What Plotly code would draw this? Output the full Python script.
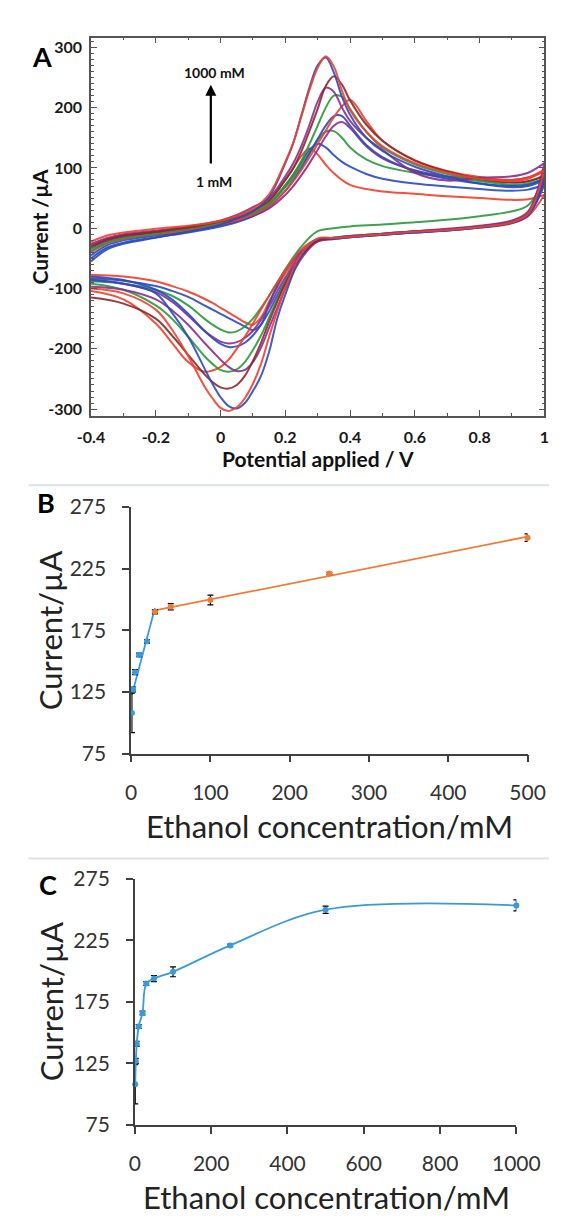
import numpy as np
import plotly.graph_objects as go

# ==========================================
# DATA
# ==========================================
# Panel A: cyclic voltammograms, forward (anodic) and reverse (cathodic) sweeps
cv_e_fwd = [-0.4, -0.35, -0.3, -0.2, -0.1, 0.0, 0.05, 0.1, 0.15, 0.2, 0.225, 0.25, 0.275,
            0.3, 0.325, 0.35, 0.375, 0.4, 0.45, 0.5, 0.6, 0.7, 0.8, 0.9, 0.95, 1.0]
cv_e_rev = [1.0, 0.95, 0.9, 0.8, 0.7, 0.6, 0.5, 0.4, 0.35, 0.3, 0.25, 0.2, 0.175, 0.15, 0.125,
            0.1, 0.075, 0.05, 0.025, 0.0, -0.025, -0.05, -0.1, -0.15, -0.2, -0.3, -0.4]

fwd_c0 = [-28, -18, -13, -6, 0, 9, 16, 27, 45, 80, 100, 120, 132, 122, 105, 91, 80, 72, 65, 61, 57, 53, 50, 47, 48, 55]
rev_c0 = [55, 20, 8, 1, -4, -7, -11, -15, -18, -22, -40, -75, -98, -122, -148, -160, -156, -148, -140, -132, -124, -117, -105, -96, -88, -80, -77]
fwd_c1 = [-45, -28, -20, -12, -5, 5, 12, 22, 40, 70, 88, 110, 130, 140, 134, 121, 110, 102, 90, 82, 74, 69, 65, 62, 64, 72]
rev_c1 = [72, 22, 10, 2, -3, -6, -10, -14, -17, -20, -38, -70, -95, -125, -160, -169, -163, -156, -149, -142, -135, -128, -114, -104, -96, -87, -83]
fwd_c2 = [-35, -22, -16, -9, -2, 7, 14, 24, 40, 68, 85, 105, 126, 146, 160, 161, 150, 134, 114, 103, 92, 84, 78, 72, 74, 82]
rev_c2 = [82, 38, 28, 20, 14, 10, 6, 3, 0, -5, -30, -68, -90, -112, -132, -150, -163, -171, -173, -168, -160, -150, -128, -112, -102, -92, -88]
fwd_c3 = [-32, -20, -14, -8, -2, 6, 12, 20, 33, 55, 70, 88, 108, 130, 152, 170, 176, 166, 136, 116, 96, 86, 82, 80, 84, 95]
rev_c3 = [95, 24, 11, 3, -2, -5, -9, -13, -16, -20, -42, -82, -105, -130, -152, -170, -182, -189, -191, -188, -180, -170, -145, -122, -106, -92, -85]
fwd_c4 = [-50, -32, -24, -15, -7, 3, 10, 20, 36, 62, 80, 100, 124, 148, 170, 186, 186, 170, 138, 118, 95, 82, 74, 70, 72, 82]
rev_c4 = [82, 22, 9, 1, -4, -7, -11, -15, -18, -21, -45, -88, -112, -138, -160, -178, -190, -196, -197, -192, -182, -170, -142, -118, -102, -86, -80]
fwd_c5 = [-40, -25, -18, -10, -3, 6, 13, 22, 37, 62, 78, 97, 118, 140, 162, 184, 202, 213, 178, 145, 113, 95, 85, 80, 84, 97]
rev_c5 = [97, 24, 10, 2, -3, -6, -10, -14, -16, -18, -35, -70, -90, -112, -135, -158, -180, -200, -218, -230, -236, -238, -222, -190, -158, -118, -104]
fwd_c6 = [-38, -24, -17, -9, -1, 9, 17, 26, 42, 72, 90, 112, 140, 170, 200, 220, 218, 198, 160, 134, 106, 90, 80, 76, 78, 88]
rev_c6 = [88, 25, 11, 3, -2, -5, -9, -13, -16, -20, -45, -90, -118, -148, -178, -202, -222, -234, -238, -235, -225, -212, -180, -150, -128, -102, -92]
fwd_c7 = [-26, -16, -10, -4, 3, 13, 22, 35, 50, 86, 108, 137, 172, 210, 233, 226, 200, 178, 150, 130, 92, 79, 84, 86, 92, 108]
rev_c7 = [108, 28, 13, 4, -1, -5, -9, -13, -17, -22, -50, -100, -132, -165, -198, -222, -235, -237, -230, -218, -204, -190, -160, -136, -118, -102, -97]
fwd_c8 = [-30, -19, -12, -6, 1, 11, 19, 30, 46, 80, 100, 128, 162, 198, 236, 252, 238, 212, 172, 145, 112, 94, 82, 76, 78, 86]
rev_c8 = [86, 24, 10, 2, -3, -6, -10, -14, -17, -20, -46, -92, -122, -155, -190, -220, -245, -260, -266, -264, -255, -242, -210, -178, -150, -125, -115]
fwd_c9 = [-55, -35, -26, -16, -6, 6, 16, 28, 52, 108, 142, 188, 234, 270, 283, 258, 218, 188, 150, 128, 102, 86, 74, 68, 70, 80]
rev_c9 = [80, 22, 9, 1, -4, -7, -11, -15, -17, -18, -45, -110, -150, -205, -245, -270, -290, -299, -295, -280, -258, -232, -180, -140, -108, -92, -86]
fwd_c10 = [-22, -12, -7, -1, 4, 12, 20, 32, 56, 110, 142, 186, 230, 266, 285, 268, 228, 196, 160, 136, 108, 92, 82, 78, 82, 95]
rev_c10 = [95, 24, 10, 2, -3, -6, -10, -14, -16, -17, -42, -100, -138, -180, -225, -258, -282, -297, -303, -298, -282, -262, -212, -168, -135, -108, -100]

cv_fwd = [fwd_c0, fwd_c1, fwd_c2, fwd_c3, fwd_c4, fwd_c5, fwd_c6, fwd_c7, fwd_c8, fwd_c9, fwd_c10]
cv_rev = [rev_c0, rev_c1, rev_c2, rev_c3, rev_c4, rev_c5, rev_c6, rev_c7, rev_c8, rev_c9, rev_c10]

a_xtickvals = [-0.4, -0.2, 0, 0.2, 0.4, 0.6, 0.8, 1.0]
a_xticktext = ["-0.4", "-0.2", "0", "0.2", "0.4", "0.6", "0.8", "1"]
a_ytickvals = [-300, -200, -100, 0, 100, 200, 300]
a_yticktext = ["-300", "-200", "-100", "0", "100", "200", "300"]

# Panels B and C: peak current vs ethanol concentration
conc = [1, 2.5, 5, 10, 20, 30, 50, 100, 250, 500, 1000]
current = [108, 127, 141, 155, 166, 190, 194, 199.5, 221, 250, 253.5]
current_err = [16, 2, 2, 1.5, 1.5, 1.5, 2.5, 4, 1, 3, 4.5]

b_xtickvals = [0, 100, 200, 300, 400, 500]
c_xtickvals = [0, 200, 400, 600, 800, 1000]
bc_ytickvals = [75, 125, 175, 225, 275]

# ==========================================
# STYLE
# ==========================================
W, H = 565, 1216
CV_COLORS = ["#f2412e", "#2b4dc2", "#2f9b3d", "#8e2f8e", "#2b4dc2", "#f2412e",
             "#2f9b3d", "#8e2f8e", "#8c2b30", "#2b4dc2", "#f2412e"]
BLUE = "#3a9ad9"
ORANGE = "#f07b35"
AXIS_GREY = "#404040"


def px(x, y):
    return x / W, 1 - y / H


fig = go.Figure()

# ---- Panel A ----
for fwd, rev, color in zip(cv_fwd, cv_rev, CV_COLORS):
    for xs, ys in ((cv_e_fwd, fwd), (cv_e_rev, rev)):
        fig.add_trace(go.Scatter(
            x=xs, y=ys, mode="lines", xaxis="x", yaxis="y",
            line=dict(color=color, width=2, shape="spline", smoothing=1),
            opacity=0.9, showlegend=False, hoverinfo="skip",
        ))

# ---- Panel B ----
conc_arr = np.array(conc)
cur_arr = np.array(current)
err_arr = np.array(current_err)

low = conc_arr <= 30
high = (conc_arr >= 30) & (conc_arr <= 500)

k1, b1 = np.polyfit(conc_arr[low], cur_arr[low], 1)
k2, b2 = np.polyfit(conc_arr[high], cur_arr[high], 1)
x_low = np.array([conc_arr[low].min(), conc_arr[low].max()])
x_high = np.array([conc_arr[high].min(), conc_arr[high].max()])

fig.add_trace(go.Scatter(
    x=x_low, y=k1 * x_low + b1, mode="lines", xaxis="x2", yaxis="y2",
    line=dict(color=BLUE, width=1.8), showlegend=False, cliponaxis=False,
))
fig.add_trace(go.Scatter(
    x=x_high, y=k2 * x_high + b2, mode="lines", xaxis="x2", yaxis="y2",
    line=dict(color=ORANGE, width=1.8), showlegend=False, cliponaxis=False,
))
fig.add_trace(go.Scatter(
    x=conc_arr[low], y=cur_arr[low], mode="markers", xaxis="x2", yaxis="y2",
    marker=dict(color=BLUE, size=6),
    error_y=dict(type="data", array=err_arr[low], color="black", thickness=1.2, width=3),
    showlegend=False, cliponaxis=False,
))
fig.add_trace(go.Scatter(
    x=conc_arr[high], y=cur_arr[high], mode="markers", xaxis="x2", yaxis="y2",
    marker=dict(color=ORANGE, size=6),
    error_y=dict(type="data", array=err_arr[high], color="black", thickness=1.2, width=3),
    showlegend=False, cliponaxis=False,
))

# ---- Panel C ----
fig.add_trace(go.Scatter(
    x=conc, y=current, mode="lines+markers", xaxis="x3", yaxis="y3",
    line=dict(color=BLUE, width=1.8, shape="spline", smoothing=1),
    marker=dict(color=BLUE, size=6),
    error_y=dict(type="data", array=current_err, color="black", thickness=1.2, width=3),
    showlegend=False, cliponaxis=False,
))

# ==========================================
# AXES
# ==========================================
a_tickfont = dict(family="Lato", size=16, color="#1a1a1a", weight="bold")
bc_tickfont = dict(family="Lato", size=21, color="#333333")

fig.update_layout(
    width=W, height=H,
    margin=dict(l=0, r=0, t=0, b=0),
    paper_bgcolor="white", plot_bgcolor="white",
    xaxis=dict(
        domain=[74 / W, 560 / W], anchor="y", range=[-0.4, 1.0],
        tickvals=a_xtickvals, ticktext=a_xticktext, tickfont=a_tickfont,
        ticks="inside", ticklen=6, tickcolor="#555555", mirror="allticks",
        showline=True, linecolor="#555555", linewidth=1.5,
        showgrid=False, zeroline=False, ticklabelstandoff=6,
        minor=dict(ticks="inside", ticklen=3, dtick=0.1, tick0=-0.4, tickcolor="#555555"),
    ),
    yaxis=dict(
        domain=[1 - 402 / H, 1 - 16 / H], anchor="x", range=[-311, 316],
        tickvals=a_ytickvals, ticktext=a_yticktext, tickfont=a_tickfont,
        ticks="inside", ticklen=6, tickcolor="#555555", mirror="allticks",
        showline=True, linecolor="#555555", linewidth=1.5,
        showgrid=False, zeroline=False, ticklabelstandoff=4,
        minor=dict(ticks="inside", ticklen=3, dtick=10, tick0=0, tickcolor="#555555"),
    ),
    xaxis2=dict(
        domain=[117 / W, 542 / W], anchor="y2", range=[0, 500],
        tickvals=b_xtickvals, tickfont=bc_tickfont,
        ticks="outside", ticklen=7, tickcolor=AXIS_GREY, tickwidth=1.5,
        showline=True, linecolor=AXIS_GREY, linewidth=1.5,
        showgrid=False, zeroline=False, ticklabelstandoff=12,
    ),
    yaxis2=dict(
        domain=[1 - 747 / H, 1 - 495 / H], anchor="x2", range=[75, 275],
        tickvals=bc_ytickvals, tickfont=bc_tickfont,
        ticks="outside", ticklen=7, tickcolor=AXIS_GREY, tickwidth=1.5,
        showline=True, linecolor=AXIS_GREY, linewidth=1.5,
        showgrid=False, zeroline=False, ticklabelstandoff=12,
    ),
    xaxis3=dict(
        domain=[121 / W, 530 / W], anchor="y3", range=[0, 1000],
        tickvals=c_xtickvals, tickfont=bc_tickfont,
        ticks="outside", ticklen=7, tickcolor=AXIS_GREY, tickwidth=1.5,
        showline=True, linecolor=AXIS_GREY, linewidth=1.5,
        showgrid=False, zeroline=False, ticklabelstandoff=12,
    ),
    yaxis3=dict(
        domain=[1 - 1126 / H, 1 - 875 / H], anchor="x3", range=[75, 275],
        tickvals=bc_ytickvals, tickfont=bc_tickfont,
        ticks="outside", ticklen=7, tickcolor=AXIS_GREY, tickwidth=1.5,
        showline=True, linecolor=AXIS_GREY, linewidth=1.5,
        showgrid=False, zeroline=False, ticklabelstandoff=12,
    ),
)

# ==========================================
# TEXT, ARROW, SEPARATORS
# ==========================================
bold_title = dict(family="Lato", size=21, color="#111111", weight="bold")
light_title = dict(family="Lato", size=31, color="#222222")
letter_font = dict(family="Lato", size=27, color="black", weight="bold")

annotations = []


def paper_text(text, x, y, font, angle=0):
    xp, yp = px(x, y)
    annotations.append(dict(
        text=text, x=xp, y=yp, xref="paper", yref="paper", showarrow=False,
        xanchor="center", yanchor="middle", font=font, textangle=angle,
    ))


paper_text("A", 21, 35, letter_font)
paper_text("B", 26, 491, letter_font)
paper_text("C", 28, 881, letter_font)
paper_text("Current /µA", 19, 209, bold_title, -90)
paper_text("Potential applied / V", 317, 446, bold_title)
paper_text("Current/µA", 30, 621, light_title, -90)
paper_text("Ethanol concentration/mM", 330, 821, light_title)
paper_text("Current/µA", 32, 1000, light_title, -90)
paper_text("Ethanol concentration/mM", 326, 1200, light_title)

ann_font = dict(family="Lato", size=14, color="#111111", weight="bold")
annotations.append(dict(text="1000 mM", x=-0.018, y=259, xref="x", yref="y",
                        showarrow=False, font=ann_font))
annotations.append(dict(text="1 mM", x=-0.02, y=77, xref="x", yref="y",
                        showarrow=False, font=ann_font))
annotations.append(dict(text="", x=-0.03, y=238, ax=-0.03, ay=105, xref="x", yref="y",
                        axref="x", ayref="y", showarrow=True, arrowhead=2,
                        arrowsize=1, arrowwidth=2.2, arrowcolor="black"))

fig.update_layout(annotations=annotations)

for ysep in (473, 854):
    fig.add_shape(type="line", xref="paper", yref="paper",
                  x0=7 / W, x1=1, y0=1 - ysep / H, y1=1 - ysep / H,
                  line=dict(color="#dde2e7", width=2))

fig.write_html("out.html")
